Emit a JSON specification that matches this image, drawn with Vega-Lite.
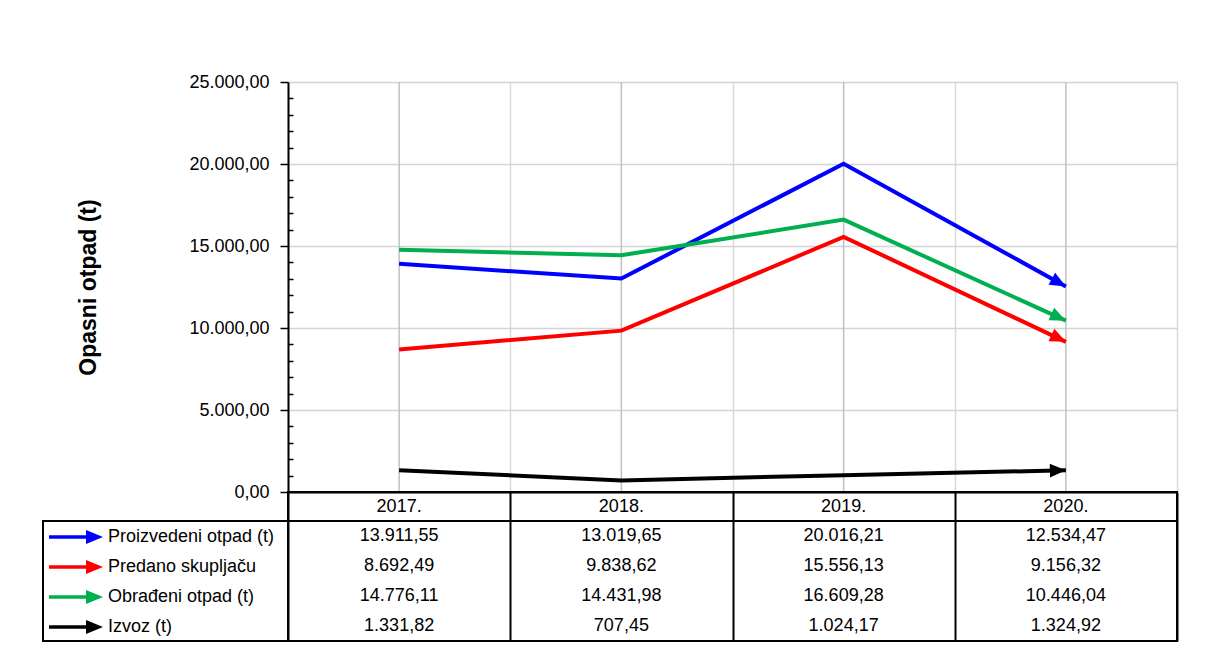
{
  "$schema": "https://vega.github.io/schema/vega-lite/v6.json",
  "padding": {"left": 42, "top": 73, "right": 5, "bottom": 5},
  "background": "white",
  "config": {
    "locale": {"number": {"decimal": ",", "thousands": ".", "grouping": [3], "currency": ["", ""]}},
    "font": "Liberation Sans",
    "view": {"stroke": null}
  },
  "datasets": {
    "d": [
      {"year": "2017.", "series": "Proizvedeni otpad (t)", "value": 13911.55},
      {"year": "2017.", "series": "Predano skupljaču", "value": 8692.49},
      {"year": "2017.", "series": "Obrađeni otpad (t)", "value": 14776.11},
      {"year": "2017.", "series": "Izvoz (t)", "value": 1331.82},
      {"year": "2018.", "series": "Proizvedeni otpad (t)", "value": 13019.65},
      {"year": "2018.", "series": "Predano skupljaču", "value": 9838.62},
      {"year": "2018.", "series": "Obrađeni otpad (t)", "value": 14431.98},
      {"year": "2018.", "series": "Izvoz (t)", "value": 707.45},
      {"year": "2019.", "series": "Proizvedeni otpad (t)", "value": 20016.21},
      {"year": "2019.", "series": "Predano skupljaču", "value": 15556.13},
      {"year": "2019.", "series": "Obrađeni otpad (t)", "value": 16609.28},
      {"year": "2019.", "series": "Izvoz (t)", "value": 1024.17},
      {"year": "2020.", "series": "Proizvedeni otpad (t)", "value": 12534.47},
      {"year": "2020.", "series": "Predano skupljaču", "value": 9156.32},
      {"year": "2020.", "series": "Obrađeni otpad (t)", "value": 10446.04},
      {"year": "2020.", "series": "Izvoz (t)", "value": 1324.92}
    ]
  },
  "columns": 2,
  "spacing": 0,
  "bounds": "flush",
  "align": "each",
  "resolve": {"legend": {"fill": "independent"}},
  "concat": [
    {"width": 245, "height": 410, "data": {"values": []}, "mark": "point"},
    {
      "width": 889, "height": 410,
      "data": {"name": "d"},
      "encoding": {
        "x": {"field": "year", "type": "ordinal", "scale": {"type": "band", "paddingInner": 0, "paddingOuter": 0}, "bandPosition": 0.5,
          "axis": {"title": null, "labels": false, "ticks": false, "domain": true, "domainColor": "black", "domainWidth": 2, "grid": true, "gridColor": "#d9d9d9", "gridWidth": 1.5, "tickBand": "extent"}}
      },
      "layer": [
        {"transform": [{"filter": "datum.series === 'Izvoz (t)'"}], "mark": {"type": "rule", "color": "#c0c0c0", "strokeWidth": 1.5}, "encoding": {}},
        {"mark": {"type": "line", "strokeWidth": 4},
          "encoding": {
            "y": {"field": "value", "type": "quantitative", "scale": {"domain": [0, 25000], "nice": false},
              "axis": {"title": "Opasni otpad (t)", "titleFontSize": 23, "titleFontWeight": "bold", "titleColor": "black", "titlePadding": 88, "titleFont": "Liberation Sans",
                "values": [0,1000,2000,3000,4000,5000,6000,7000,8000,9000,10000,11000,12000,13000,14000,15000,16000,17000,18000,19000,20000,21000,22000,23000,24000,25000],
                "tickCount": 40,
                "format": ",.2f", "labelExpr": "datum.value % 5000 === 0 ? datum.label : ''", "labelOverlap": false, "labelFontSize": 18, "labelColor": "black", "labelPadding": 11, "labelFont": "Liberation Sans",
                "domainColor": "black", "domainWidth": 2, "tickColor": "black", "tickWidth": 1.5,
                "tickSize": {"condition": {"test": "datum.value % 5000 === 0", "value": 8}, "value": -5},
                "grid": true, "gridColor": "#d4d4d4", "gridWidth": 1.5,
                "gridOpacity": {"condition": {"test": "datum.value % 5000 === 0", "value": 1}, "value": 0}}},
            "stroke": {"field": "series", "type": "nominal", "scale": {"domain": ["Proizvedeni otpad (t)", "Predano skupljaču", "Obrađeni otpad (t)", "Izvoz (t)"], "range": ["#0000ff", "#ff0000", "#00b050", "#000000"]}, "legend": null}
          }},
        {"transform": [{"filter": "datum.year === '2020.' && datum.series === 'Proizvedeni otpad (t)'"}],
          "mark": {"type": "point", "shape": "M0,0L-2,-0.85L-2,0.85Z", "size": 256, "angle": 28.9, "filled": true, "color": "#0000ff", "opacity": 1, "strokeWidth": 0},
          "encoding": {"y": {"field": "value", "type": "quantitative"}}},
        {"transform": [{"filter": "datum.year === '2020.' && datum.series === 'Predano skupljaču'"}],
          "mark": {"type": "point", "shape": "M0,0L-2,-0.85L-2,0.85Z", "size": 256, "angle": 25.3, "filled": true, "color": "#ff0000", "opacity": 1, "strokeWidth": 0},
          "encoding": {"y": {"field": "value", "type": "quantitative"}}},
        {"transform": [{"filter": "datum.year === '2020.' && datum.series === 'Obrađeni otpad (t)'"}],
          "mark": {"type": "point", "shape": "M0,0L-2,-0.85L-2,0.85Z", "size": 256, "angle": 24.5, "filled": true, "color": "#00b050", "opacity": 1, "strokeWidth": 0},
          "encoding": {"y": {"field": "value", "type": "quantitative"}}},
        {"transform": [{"filter": "datum.year === '2020.' && datum.series === 'Izvoz (t)'"}],
          "mark": {"type": "point", "shape": "M0,0L-2,-0.85L-2,0.85Z", "size": 256, "angle": -1.3, "filled": true, "color": "#000000", "opacity": 1, "strokeWidth": 0},
          "encoding": {"y": {"field": "value", "type": "quantitative"}}}
      ]
    },
    {"width": 245, "height": 29, "data": {"values": []}, "mark": "point"},
    {
      "width": 889, "height": 29,
      "data": {"name": "d"},
      "transform": [{"filter": "datum.series === 'Izvoz (t)'"}],
      "view": {"stroke": "black", "strokeWidth": 2},
      "mark": {"type": "text", "fontSize": 18, "font": "Liberation Sans", "color": "black", "baseline": "middle"},
      "encoding": {
        "x": {"field": "year", "type": "ordinal", "scale": {"type": "band", "paddingInner": 0, "paddingOuter": 0}, "bandPosition": 0.5,
          "axis": {"title": null, "labels": false, "ticks": false, "domain": false, "grid": true, "gridColor": "black", "gridWidth": 2, "tickBand": "extent"}},
        "text": {"field": "year", "type": "nominal"}
      }
    },
    {
      "width": 245, "height": 120,
      "data": {"name": "d"},
      "transform": [{"filter": "datum.year === '2017.'"}],
      "view": {"stroke": "black", "strokeWidth": 2},
      "mark": {"type": "point", "filled": true, "size": 0, "opacity": 1},
      "encoding": {
        "fill": {"field": "series", "type": "nominal",
          "scale": {"domain": ["Proizvedeni otpad (t)", "Predano skupljaču", "Obrađeni otpad (t)", "Izvoz (t)"], "range": ["#0000ff", "#ff0000", "#00b050", "#000000"]},
          "legend": {"orient": "none", "legendX": 6, "legendY": 1, "title": null, "direction": "vertical",
            "symbolType": "M-1,-0.117L1.467,-0.117L1.467,-0.467L2.6,0L1.467,0.467L1.467,0.117L-1,0.117Z",
            "symbolSize": 900, "symbolStrokeWidth": 0, "symbolOpacity": 1,
            "labelFontSize": 18, "labelFont": "Liberation Sans", "labelColor": "black", "labelOffset": 29, "labelLimit": 300,
            "rowPadding": 6, "padding": 0}}
      }
    },
    {
      "width": 889, "height": 120,
      "data": {"name": "d"},
      "view": {"stroke": "black", "strokeWidth": 2},
      "mark": {"type": "text", "fontSize": 18, "font": "Liberation Sans", "color": "black", "baseline": "middle"},
      "encoding": {
        "x": {"field": "year", "type": "ordinal", "scale": {"type": "band", "paddingInner": 0, "paddingOuter": 0}, "bandPosition": 0.5,
          "axis": {"title": null, "labels": false, "ticks": false, "domain": false, "grid": true, "gridColor": "black", "gridWidth": 2, "tickBand": "extent"}},
        "y": {"field": "series", "type": "nominal", "sort": ["Proizvedeni otpad (t)", "Predano skupljaču", "Obrađeni otpad (t)", "Izvoz (t)"], "scale": {"type": "band", "paddingInner": 0, "paddingOuter": 0}, "bandPosition": 0.5, "axis": null},
        "text": {"field": "value", "type": "quantitative", "format": ",.2f"}
      }
    }
  ]
}
